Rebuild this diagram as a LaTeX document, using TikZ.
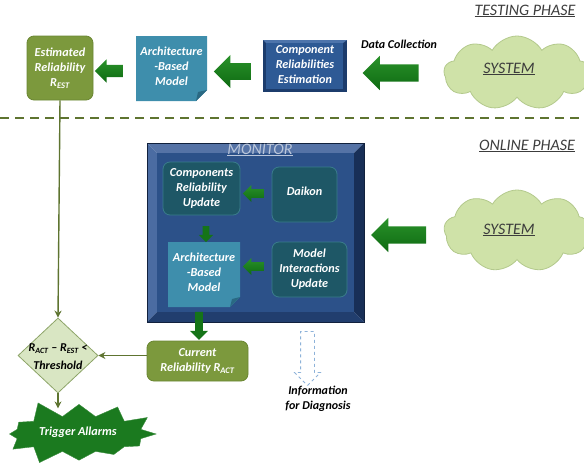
\documentclass[tikz,border=0pt]{standalone}
\usepackage{fontspec}
\setmainfont{Carlito}
\usetikzlibrary{shapes.geometric,shapes.symbols,shapes.arrows,calc,arrows.meta}
\definecolor{olivef}{HTML}{7C993D}
\definecolor{oliveb}{HTML}{6A8632}
\definecolor{olivel}{HTML}{5E7430}
\definecolor{tealf}{HTML}{3E8EAC}
\definecolor{tealfold}{HTML}{2A6983}
\definecolor{navyf}{HTML}{2E5A95}
\definecolor{navyd}{HTML}{1C3C6C}
\definecolor{navyl}{HTML}{4D74AB}
\definecolor{monf}{HTML}{2C5189}
\definecolor{montop}{HTML}{5573A6}
\definecolor{monleft}{HTML}{4B6CA2}
\definecolor{monright}{HTML}{182F57}
\definecolor{monbot}{HTML}{213E6E}
\definecolor{dtealf}{HTML}{1E5766}
\definecolor{dtealb}{HTML}{3A7C8C}
\definecolor{cloudf}{HTML}{CFE2A8}
\definecolor{cloudb}{HTML}{B3C98C}
\definecolor{garrowt}{HTML}{2A922A}
\definecolor{garrowb}{HTML}{0E6A12}
\definecolor{diaf}{HTML}{D9E6C3}
\definecolor{diab}{HTML}{8DA468}
\definecolor{starf}{HTML}{1B7A1F}
\definecolor{phase}{HTML}{3C3C3C}
\definecolor{infoarrow}{HTML}{8DB2D9}
\begin{document}
\begin{tikzpicture}[x=1pt,y=-1pt,
  wtxt/.style={font=\fontsize{12.2}{15}\selectfont\bfseries\itshape, align=center, text=white},
  btxt/.style={font=\fontsize{12}{15.5}\selectfont\bfseries\itshape, align=center, text=black},
  phasetxt/.style={font=\fontsize{16}{18}\selectfont\itshape, text=phase},
  olivebox/.style={rounded corners=7pt, fill=olivef, draw=oliveb, line width=0.8pt},
  dtealbox/.style={rounded corners=7pt, fill=dtealf, draw=dtealb, line width=0.8pt},
  blk/.style args={#1/#2/#3}{single arrow, draw=none, top color=garrowt, bottom color=garrowb,
    inner xsep=0pt, inner ysep=#3*#2/2, single arrow head extend=(1-#3)*#2/2,
    minimum height=#1, minimum width=0pt, outer sep=0pt, shape border rotate=180},
  blkv/.style args={#1/#2/#3}{single arrow, draw=none, fill=garrowb!75!garrowt,
    inner xsep=0pt, inner ysep=#3*#2/2, single arrow head extend=(1-#3)*#2/2,
    minimum height=#1, minimum width=0pt, outer sep=0pt, rotate=-90},
  conn/.style={draw=olivel, line width=1.4pt, -{Stealth[length=7pt,width=7pt]}},
  cloudshape/.style={cloud, cloud puffs=9, cloud puff arc=120, aspect=2, fill=cloudf, draw=cloudb, line width=0.8pt},
]
\useasboundingbox (0,0) rectangle (584,466);

% ---------- TESTING PHASE ----------
\node[phasetxt] (tp) at (525,11) {\underline{TESTING PHASE}};

\node[olivebox, minimum width=66pt, minimum height=64pt] (est) at (60,68) {};
\node[wtxt] (estt) at (est) {Estimated\\Reliability\\R\textsubscript{EST}};

% folded teal box 1
\fill[tealf] (136,36) -- (207,36) -- (207,90) -- (196,101) -- (136,101) -- cycle;
\fill[tealfold] (207,90) -- (196,101) -- (198,92) -- cycle;
\node[wtxt, minimum width=71pt, minimum height=65pt] (abm1) at (171.5,66) {Architecture\\-Based\\Model};

% component reliabilities estimation (bevelled)
\fill[navyd] (263,40) -- (347,40) -- (347,92) -- (263,92) -- cycle;
\fill[navyl] (263,40) -- (347,40) -- (343,43) -- (266,43) -- cycle;
\fill[navyf] (266,43) rectangle (343,89);
\node[wtxt, minimum width=84pt, minimum height=52pt] (cre) at (305,65) {Component\\Reliabilities\\Estimation};

\node[btxt] (dc) at (399,44) {Data Collection};

\node[cloudshape, minimum width=146pt, minimum height=74pt] (sys1) at (517,73) {};
\node[phasetxt] (sys1t) at (509,69) {\underline{SYSTEM}};

\node[blk=56pt/34pt/0.5] (a3) at (395,73) {};
\node[blk=37pt/33pt/0.5] (a2) at (236.5,71.5) {};
\node[blk=28pt/23pt/0.52] (a1) at (112,71) {};

% dashed separator
\coordinate (dl) at (0,118);
\coordinate (dr) at (584,118);
\draw[draw=olivel, line width=2.4pt, dash pattern=on 9pt off 6pt] (dl) -- (dr);

% ---------- ONLINE PHASE ----------
\node[phasetxt] (op) at (527,146) {\underline{ONLINE PHASE}};

% monitor with bevel
\fill[montop] (147,143) -- (364,143) -- (354,153) -- (157,153) -- cycle;
\fill[monleft] (147,143) -- (157,153) -- (157,312) -- (147,322) -- cycle;
\fill[monright] (364,143) -- (364,322) -- (354,312) -- (354,153) -- cycle;
\fill[monbot] (147,322) -- (157,312) -- (354,312) -- (364,322) -- cycle;
\fill[monf] (157,153) rectangle (354,312);
\draw[draw=monright!70!black, line width=0.6pt] (147,143) rectangle (364,322);
\node[minimum width=217pt, minimum height=179pt] (mon) at (255.5,232.5) {};
\node[font=\fontsize{16}{18}\selectfont\itshape, text=montop!40!white] (mont) at (260,150) {\underline{MONITOR}};

\node[dtealbox, minimum width=77pt, minimum height=53pt] (cru) at (201.5,188.5) {};
\node[wtxt] (crut) at (cru) {Components\\Reliability\\Update};
\node[dtealbox, minimum width=65pt, minimum height=55pt] (dai) at (304.5,194.5) {};
\node[wtxt] (dait) at ([yshift=3pt]dai.center) {Daikon};
\node[dtealbox, minimum width=75pt, minimum height=55pt] (miu) at (309.5,269.5) {};
\node[wtxt] (miut) at (miu) {Model\\Interactions\\Update};

\fill[tealf] (168,242) -- (240,242) -- (240,297) -- (230,307) -- (168,307) -- cycle;
\fill[tealfold] (240,297) -- (230,307) -- (232,299) -- cycle;
\node[wtxt, minimum width=72pt, minimum height=65pt] (abm2) at (204,272) {Architecture\\-Based\\Model};

\node[blk=21pt/17pt/0.5] (a4) at (255.5,193.5) {};
\node[blk=21pt/17pt/0.5] (a5) at (255.5,266.5) {};
\node[blkv=16pt/14pt/0.45] (a6) at (206,232.5) {};
\node[blkv=28pt/18pt/0.42] (a7) at (199,324) {};

\node[cloudshape, minimum width=146pt, minimum height=82pt] (sys2) at (517,231) {};
\node[phasetxt] (sys2t) at (509,230) {\underline{SYSTEM}};
\node[blk=55pt/34pt/0.5] (a8) at (403,235) {};

% lower part
\node[olivebox, minimum width=101pt, minimum height=40pt] (cur) at (197.5,361) {};
\node[wtxt] (curt) at (cur) {Current\\Reliability R\textsubscript{ACT}};

\node[diamond, fill=diaf, draw=diab, line width=0.8pt, minimum width=80pt, minimum height=75pt, inner sep=0pt] (dia) at (58,355.5) {};
\node[btxt, font=\fontsize{12}{18}\selectfont\bfseries\itshape] (diat) at (58,357) {R\textsubscript{ACT} -- R\textsubscript{EST} <\\Threshold};

\node[starburst, starburst points=12, starburst point height=19pt, random starburst=5, fill=starf, draw=starf!85!white,
      minimum width=166pt, minimum height=74pt, inner sep=0pt] (star) at (79,434) {};
\node[wtxt] (start) at (78,432) {Trigger Allarms};

\draw[conn] (est.south) -- (dia.north);
\draw[conn] (cur.west |- dia.east) -- (dia.east);
\draw[conn, shorten >=2pt] (dia.south) -- ($(dia.south)+(0,17)$);

\node[single arrow, rotate=-90, draw=infoarrow, dashed, fill=white, line width=0.8pt,
      inner xsep=0pt, inner ysep=6.5pt, single arrow head extend=6pt, minimum height=54pt, minimum width=0pt] (info) at (307.5,355) {};
\node[btxt] (infot) at (318,399) {Information\\for Diagnosis};
\end{tikzpicture}
\end{document}
